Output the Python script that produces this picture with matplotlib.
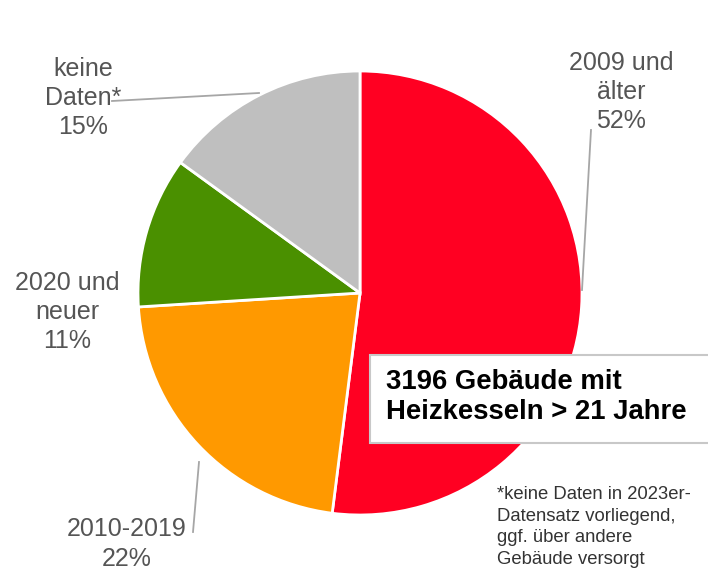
import matplotlib.pyplot as plt
from matplotlib.patches import Rectangle

# data
categories = ['2009 und\nälter', '2010-2019', '2020 und\nneuer', 'keine\nDaten*']
shares = [52, 22, 11, 15]
colors = ['#FF0022', '#FF9900', '#4A9000', '#BFBFBF']
box_text = '3196 Gebäude mit\nHeizkesseln > 21 Jahre'
footnote = '*keine Daten in 2023er-\nDatensatz vorliegend,\nggf. über andere\nGebäude versorgt'

plt.rcParams['font.family'] = ['Liberation Sans', 'DejaVu Sans']

W, H = 708, 570
fig = plt.figure(figsize=(W / 100, H / 100), dpi=100)
ax = fig.add_axes([0, 0, 1, 1])

cx, cy, r = 360, H - 293, 222
ax.pie(shares, colors=colors, startangle=90, counterclock=False,
       center=(cx, cy), radius=r, frame=True,
       wedgeprops=dict(edgecolor='white', linewidth=2))
ax.set_xlim(0, W)
ax.set_ylim(0, H)
ax.axis('off')

# labels (pixel positions measured from top)
lab_pos = [(621, 92), (127, 544), (67, 312), (83, 98)]
for cat, s, (x, y) in zip(categories, shares, lab_pos):
    ax.text(x, H - y, f'{cat}\n{s}%', ha='center', va='center',
            fontsize=18, color='#555555', linespacing=1.28)

# leader lines
leaders = [((591, 130), (582, 290)), ((199, 462), (193, 532)), ((259, 93), (112, 101))]
for (x0, y0), (x1, y1) in leaders:
    ax.plot([x0, x1], [H - y0, H - y1], color='#A6A6A6', lw=1.3)

# text box
ax.add_patch(Rectangle((370, H - 443), 345, 88, facecolor='white',
                       edgecolor='#C8C8C8', lw=1.5, zorder=5))
ax.text(386, H - 397, box_text, ha='left', va='center', fontsize=19.8,
        fontweight='bold', color='black', linespacing=1.18, zorder=6)

ax.text(497, H - 527, footnote, ha='left', va='center', fontsize=13.3,
        color='#333333', linespacing=1.35)

fig.savefig('out.png', dpi=100)
